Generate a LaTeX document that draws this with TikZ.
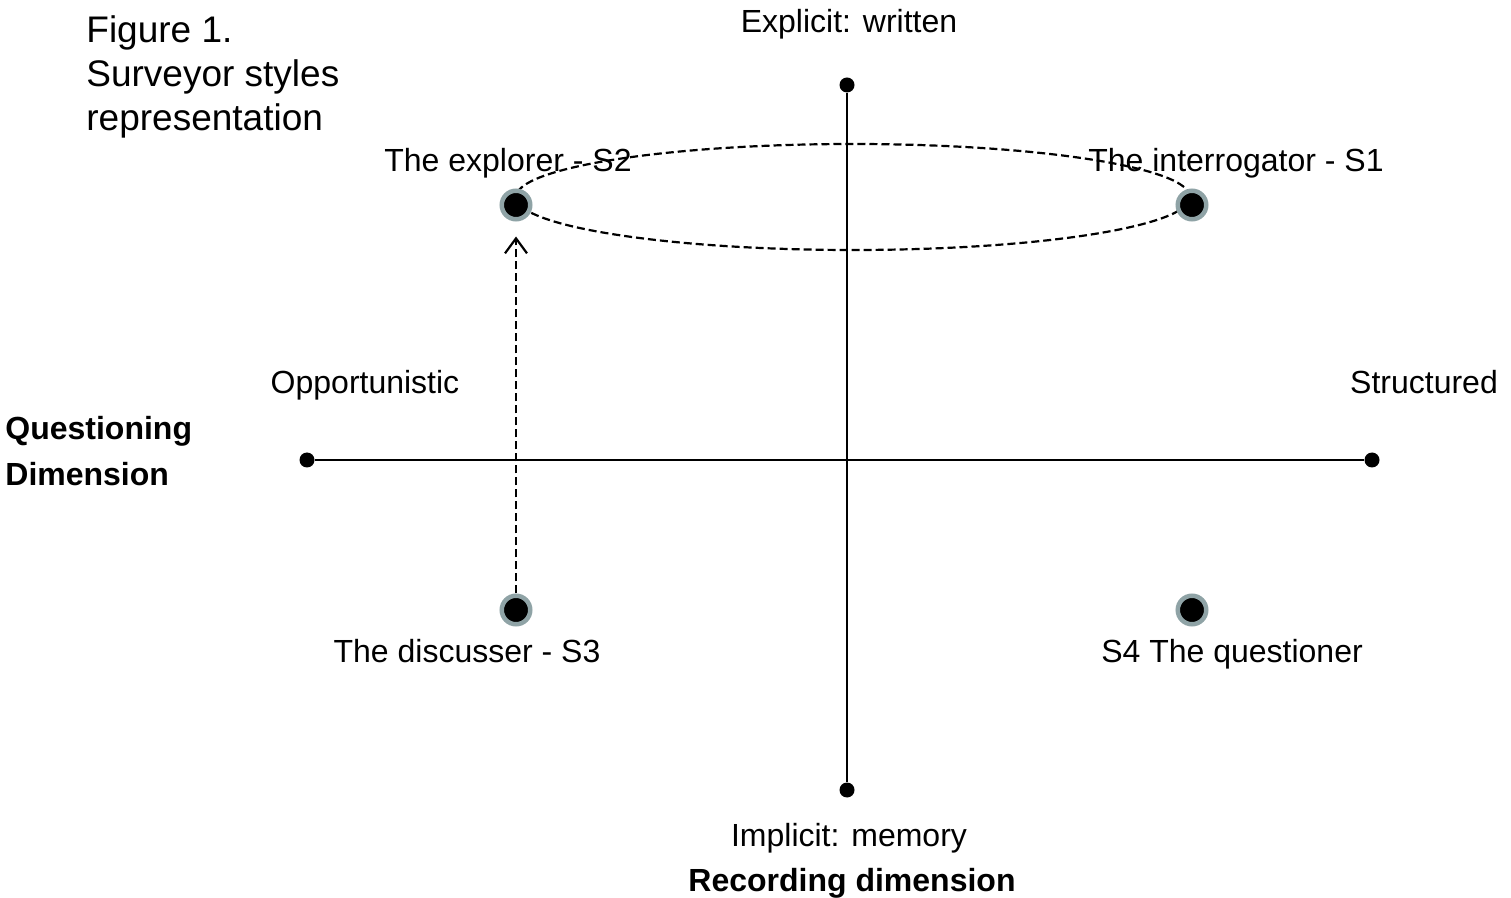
\documentclass[tikz,border=0pt]{standalone}
\usepackage{fontspec}
\setmainfont{Liberation Sans}
\usetikzlibrary{arrows.meta}
\definecolor{ringgray}{RGB}{143,163,166}
\begin{document}
\begin{tikzpicture}[x=0.5pt,y=-0.5pt,
  lbl/.style={inner sep=0pt,anchor=base,font=\fontsize{16}{19}\selectfont},
  blbl/.style={inner sep=0pt,font=\fontsize{16}{23}\selectfont\bfseries,align=left},
  enddot/.style={circle,fill=black,inner sep=0pt,minimum size=7.5pt},
  styledot/.style={circle,fill=black,draw=ringgray,line width=2.25pt,inner sep=0pt,minimum size=14.25pt},
  axis/.style={line width=1pt},
  dashline/.style={line width=1.1pt,dash pattern=on 4pt off 2pt}]
\useasboundingbox (0,0) rectangle (1511,898);
% axes endpoints
\node[enddot] (left) at (307,460) {};
\node[enddot] (right) at (1372,460) {};
\node[enddot] (top) at (847,85) {};
\node[enddot] (bottom) at (847,790) {};
\draw[axis] (left) -- (right);
\draw[axis] (top) -- (bottom);
% ellipse
\draw[dashline] (853,197) ellipse [x radius=168.5pt, y radius=26.5pt];
% style points
\node[styledot] (s2) at (516,205) {};
\node[styledot] (s1) at (1192,205) {};
\node[styledot] (s3) at (516,610) {};
\node[styledot] (s4) at (1192,610) {};
\draw[dashline,-{Straight Barb[length=7.5pt,width=11pt,line width=1.1pt]},shorten >=7.5pt] (s3) -- (s2);
% labels
\node[inner sep=0pt,anchor=west,align=left,font=\fontsize{18.5}{22}\selectfont] (fig) at (86,77) {Figure 1.\\Surveyor styles\\representation};
\node[lbl] (explicit) at (849,33) {Explicit: written};
\node[lbl] (implicit) at (849,846.5) {Implicit: memory};
\node[blbl,anchor=base] (rec) at (852,891.5) {Recording dimension};
\node[blbl,anchor=west] (quest) at (5,451) {Questioning\\Dimension};
\node[lbl] (opp) at (365,393.5) {Opportunistic};
\node[lbl] (str) at (1424,393.5) {Structured};
\node[lbl] (l2) at (508,171.5) {The explorer - S2};
\node[lbl] (l1) at (1236,171.5) {The interrogator - S1};
\node[lbl] (l3) at (467,662.5) {The discusser - S3};
\node[lbl] (l4) at (1232,662.5) {S4 The questioner};
\end{tikzpicture}
\end{document}
